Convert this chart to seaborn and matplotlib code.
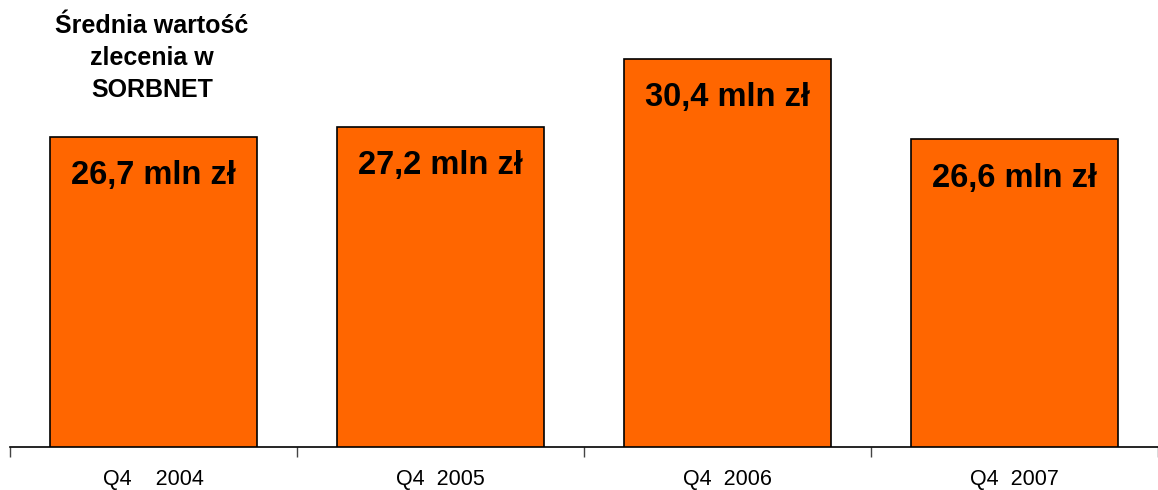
import matplotlib
matplotlib.use("Agg")
import matplotlib.pyplot as plt
import seaborn as sns
import pandas as pd
from matplotlib.ticker import FixedLocator

# data
quarters = ["Q4    2004", "Q4  2005", "Q4  2006", "Q4  2007"]
values = [26.7, 27.2, 30.4, 26.6]
labels = ["26,7 mln zł", "27,2 mln zł", "30,4 mln zł", "26,6 mln zł"]
title = "Średnia wartość\nzlecenia w\nSORBNET"

df = pd.DataFrame({"kw": quarters, "wartosc": values})

sns.set_theme(style="white")
plt.rcParams["font.family"] = ["Liberation Sans", "DejaVu Sans"]

W, H = 1158, 490
fig = plt.figure(figsize=(W / 100, H / 100), dpi=100)
ax = fig.add_axes([10 / W, 43 / H, 1148 / W, 447 / H])

sns.barplot(data=df, x="kw", y="wartosc", color="#FF6600", saturation=1,
            edgecolor="black", linewidth=1.2, width=0.72, ax=ax)

ax.set_xlim(-0.5, 3.5)
ax.set_ylim(12, 33.2)
ax.set_xlabel("")
ax.set_ylabel("")
ax.set_yticks([])
for s in ["top", "right", "left"]:
    ax.spines[s].set_visible(False)
ax.spines["bottom"].set_color("black")
ax.spines["bottom"].set_linewidth(1.2)

# ticks between categories
ax.xaxis.set_minor_locator(FixedLocator([-0.5, 0.5, 1.5, 2.5, 3.5]))
ax.tick_params(axis="x", which="major", length=0, labelsize=15.5, pad=16,
               labelcolor="black")
ax.tick_params(axis="x", which="minor", length=7, width=1, color="#444444",
               direction="out", bottom=True)

for i, (v, t) in enumerate(zip(values, labels)):
    ax.annotate(t, (i, v), xytext=(0, -28), textcoords="offset points",
                ha="center", va="center", fontsize=23.5, fontweight="bold",
                color="black")

fig.text(152 / W, 1 - 58 / H, title, ha="center", va="center",
         fontsize=18, fontweight="bold", linespacing=1.4, color="black")

fig.savefig("out.png", dpi=100)
